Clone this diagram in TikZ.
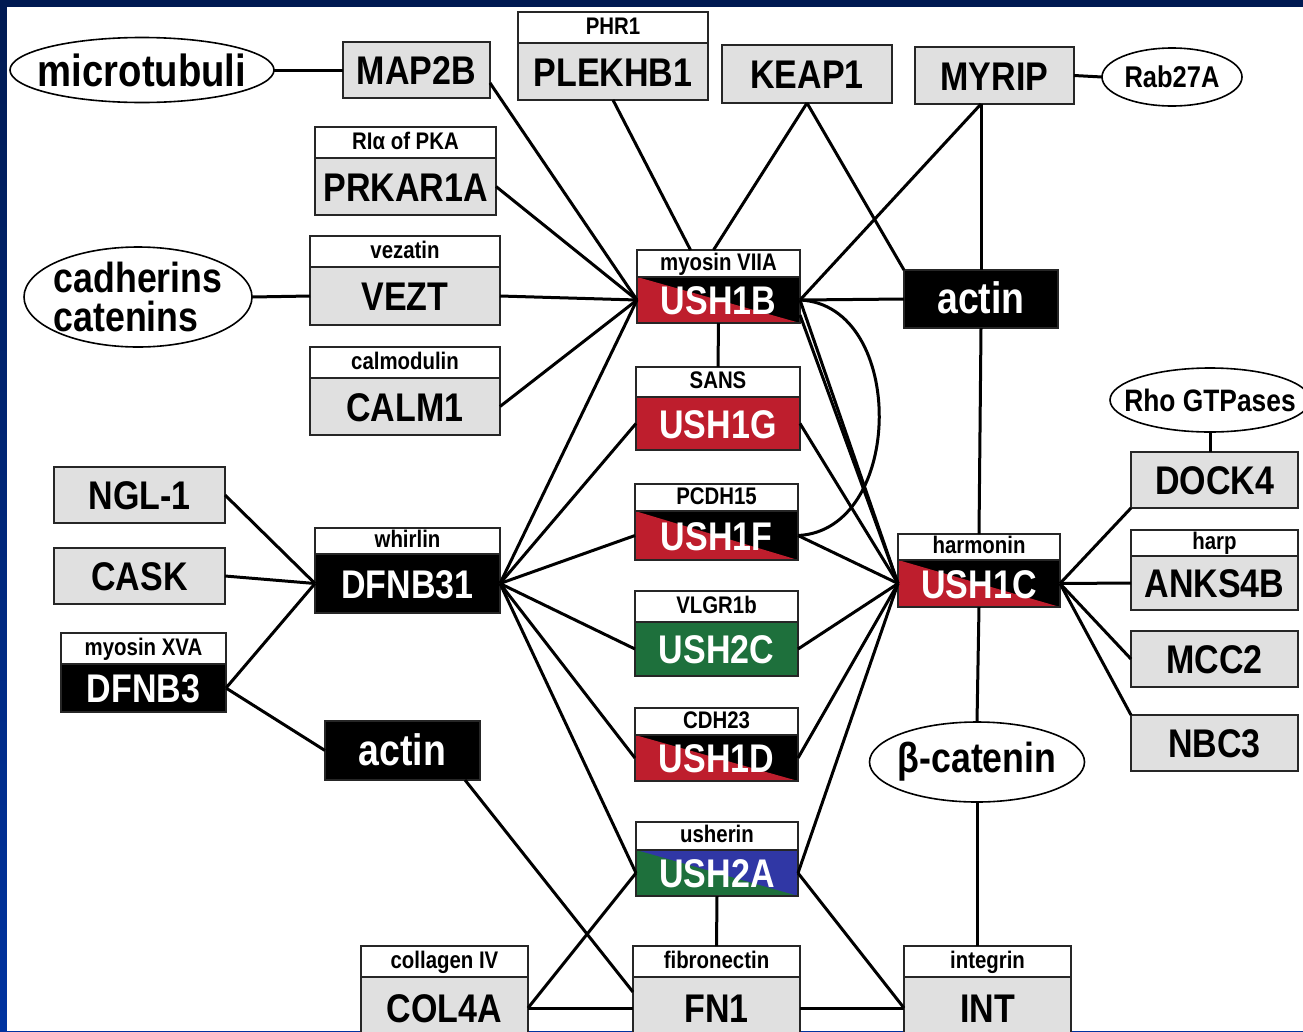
\documentclass[tikz,border=0pt]{standalone}
\usepackage{fontspec}
\setmainfont{Liberation Sans}[FakeStretch=0.85]
\usetikzlibrary{positioning,shapes.geometric,calc}

\definecolor{ushred}{RGB}{190,30,45}
\definecolor{ushgreen}{RGB}{30,112,60}
\definecolor{ushblue}{RGB}{48,55,165}
\definecolor{boxgrey}{RGB}{224,224,224}
\definecolor{navy}{RGB}{0,26,82}
\definecolor{frameblue}{RGB}{0,51,160}

\begin{document}
\begin{tikzpicture}[
    x=1pt, y=-1pt,
    prot/.style={draw=black!85, line width=1.4pt, outer sep=0pt, inner sep=0pt,
        fill=boxgrey, font=\bfseries\fontsize{40}{40}\selectfont,
        text height=29pt, text depth=0pt},
    protdark/.style={prot, fill=black, text=white},
    halves/.style 2 args={prot, fill=#1, text=white,
        path picture={\fill[#2] (path picture bounding box.north west)
            -- (path picture bounding box.south west)
            -- (path picture bounding box.south east) -- cycle;}},
    tag/.style={draw=black!85, line width=1.4pt, outer sep=0pt, inner sep=0pt,
        fill=white, font=\bfseries\fontsize{24}{24}\selectfont,
        text height=17pt, text depth=4pt},
    cloud/.style={ellipse, draw, line width=1.6pt, fill=white,
        inner sep=0pt, outer sep=0pt},
    cloudtext/.style={font=\bfseries\fontsize{#1}{#1}\selectfont},
    bond/.style={line width=3pt},
]

% frame
\useasboundingbox (0,0) rectangle (1303,1031);
\shade[top color=navy, bottom color=frameblue] (0,0) rectangle (1303,1031);
\fill[white] (7,7) rectangle (1303,1031);

%----------------------------------
% outer partners
%----------------------------------

\node[cloud, minimum width=264, minimum height=65,
    label={[cloudtext=45]center:microtubuli}] (micro) at (142,70) {};
\node[cloud, minimum width=228, minimum height=100,
    label={[font=\bfseries\fontsize{42}{39}\selectfont, align=left]center:cadherins\\catenins}] (cad) at (138,297) {};
\node[cloud, minimum width=140, minimum height=58,
    label={[cloudtext=30]center:Rab27A}] (rab) at (1172,77) {};
\node[cloud, minimum width=200, minimum height=64,
    label={[cloudtext=31]center:Rho GTPases}] (rho) at (1210,400) {};
\node[cloud, minimum width=215, minimum height=80,
    label={[cloudtext=42]center:β-catenin}] (bcat) at (977,762) {};

\node[prot, minimum width=147, minimum height=56] (map) at (416.5,70) {MAP2B};
\node[prot, minimum width=190, minimum height=57] (plek) at (613,71.5) {PLEKHB1};
\node[tag, minimum width=190, minimum height=31, above=0pt of plek] (plekH) {PHR1};
\node[prot, minimum width=170, minimum height=58] (keap) at (807,74) {KEAP1};
\node[prot, minimum width=159, minimum height=57] (myr) at (994.5,75.5) {MYRIP};

\node[prot, minimum width=181, minimum height=57] (prk) at (405.5,186.5) {PRKAR1A};
\node[tag, minimum width=181, minimum height=31, above=0pt of prk] (prkH) {RIα of PKA};
\node[prot, minimum width=190, minimum height=58] (vez) at (405,296) {VEZT};
\node[tag, minimum width=190, minimum height=31, above=0pt of vez] (vezH) {vezatin};
\node[prot, minimum width=190, minimum height=57] (calm) at (405,406.5) {CALM1};
\node[tag, minimum width=190, minimum height=31, above=0pt of calm] (calmH) {calmodulin};

\node[prot, minimum width=171, minimum height=56] (ngl) at (139.5,495) {NGL-1};
\node[prot, minimum width=171, minimum height=56] (cask) at (139.5,576) {CASK};
\node[protdark, minimum width=165, minimum height=48] (dfnbc) at (143.5,688) {DFNB3};
\node[tag, minimum width=165, minimum height=31, above=0pt of dfnbc] (dfnbcH) {myosin XVA};
\node[protdark, minimum width=185, minimum height=59] (dfnb) at (407.5,583.5) {DFNB31};
\node[tag, minimum width=185, minimum height=26, above=0pt of dfnb] (dfnbH) {whirlin};
\node[protdark, minimum width=155, minimum height=59,
    font=\bfseries\fontsize{44}{44}\selectfont] (actL) at (402.5,750.5) {actin};
\node[protdark, minimum width=154, minimum height=58,
    font=\bfseries\fontsize{44}{44}\selectfont] (actR) at (981,299) {actin};

%----------------------------------
% Usher column
%----------------------------------

\node[halves={black}{ushred}, minimum width=163, minimum height=46] (usb) at (718.5,300) {USH1B};
\node[tag, minimum width=163, minimum height=27, above=0pt of usb] (usbH) {myosin VIIA};
\node[prot, fill=ushred, text=white, minimum width=164, minimum height=53] (usg) at (718,423.5) {USH1G};
\node[tag, minimum width=164, minimum height=30, above=0pt of usg] (usgH) {SANS};
\node[halves={black}{ushred}, minimum width=163, minimum height=49] (usf) at (716.5,535.5) {USH1F};
\node[tag, minimum width=163, minimum height=27, above=0pt of usf] (usfH) {PCDH15};
\node[prot, fill=ushgreen, text=white, minimum width=163, minimum height=54] (usc) at (716.5,649) {USH2C};
\node[tag, minimum width=163, minimum height=31, above=0pt of usc] (uscH) {VLGR1b};
\node[halves={black}{ushred}, minimum width=163, minimum height=46] (usd) at (716.5,758) {USH1D};
\node[tag, minimum width=163, minimum height=27, above=0pt of usd] (usdH) {CDH23};
\node[halves={ushblue}{ushgreen}, minimum width=162, minimum height=46] (usa) at (717,873) {USH2A};
\node[tag, minimum width=162, minimum height=28, above=0pt of usa] (usaH) {usherin};

\node[halves={black}{ushred}, minimum width=162, minimum height=47] (ushc) at (979,583.5) {USH1C};
\node[tag, minimum width=162, minimum height=26, above=0pt of ushc] (ushcH) {harmonin};

%----------------------------------
% right and bottom partners
%----------------------------------

\node[prot, minimum width=167, minimum height=56] (dock) at (1214.5,480) {DOCK4};
\node[prot, minimum width=167, minimum height=54] (anks) at (1214.5,583) {ANKS4B};
\node[tag, minimum width=167, minimum height=26, above=0pt of anks] (anksH) {harp};
\node[prot, minimum width=167, minimum height=56] (mcc) at (1214.5,659) {MCC2};
\node[prot, minimum width=167, minimum height=56] (nbc) at (1214.5,743) {NBC3};

\node[prot, minimum width=167, minimum height=62] (col) at (444.5,1008) {COL4A};
\node[tag, minimum width=167, minimum height=31, above=0pt of col] (colH) {collagen IV};
\node[prot, minimum width=167, minimum height=62] (fn) at (716.5,1008) {FN1};
\node[tag, minimum width=167, minimum height=31, above=0pt of fn] (fnH) {fibronectin};
\node[prot, minimum width=167, minimum height=62] (int) at (987.5,1008) {INT};
\node[tag, minimum width=167, minimum height=31, above=0pt of int] (intH) {integrin};

%----------------------------------
% interactions
%----------------------------------

\draw[bond] (micro.east) -- (map.west);
\draw[bond] (myr.east) -- (rab.west);
\draw[bond] (cad.east) -- (vez.west);
\draw[bond] (rho.south) -- (rho.south |- dock.north);

\draw[bond] (map.-10) -- (usb.west);
\draw[bond] (prk.east) -- (usb.west);
\draw[bond] (vez.east) -- (usb.west);
\draw[bond] (calm.east) -- (usb.west);
\draw[bond] (plek.south) -- ($(usbH.north)+(-28,0)$);
\draw[bond] (keap.south) -- ($(usbH.north)+(-5,0)$);
\draw[bond] (keap.south) -- (actR.north west);
\draw[bond] (actR.north |- myr.south) -- (usb.east);
\draw[bond] (actR.north |- myr.south) -- (actR.north);
\draw[bond] (usb.east) -- (actR.west);
\draw[bond] (actR.south) -- (ushcH.north);
\draw[bond] (ushc.south) -- (bcat.north);
\draw[bond] (bcat.south) -- (bcat.south |- intH.north);

\draw[bond] (ngl.east) -- (dfnb.west);
\draw[bond] (cask.east) -- (dfnb.west);
\draw[bond] (dfnbc.east) -- (dfnb.west);
\draw[bond] (dfnbc.east) -- (actL.west);

\draw[bond] (dfnb.east) -- (usb.west);
\draw[bond] (dfnb.east) -- (usg.west);
\draw[bond] (dfnb.east) -- (usf.west);
\draw[bond] (dfnb.east) -- (usc.west);
\draw[bond] (dfnb.east) -- (usd.west);
\draw[bond] (dfnb.east) -- (usa.west);

\draw[bond] (usb.south) -- (usgH.north);
\draw[bond] (usb.east)
    .. controls ($(usb.east)+(107,5)$) and ($(usf.east)+(107,-5)$) ..
    (usf.east);
\draw[bond] (usb.east) -- (ushc.west);
\draw[bond] ($(usb.south east)+(0,-8)$) -- (ushc.west);
\draw[bond] (usg.east) -- (ushc.west);
\draw[bond] (usf.east) -- (ushc.west);
\draw[bond] (usc.east) -- (ushc.west);
\draw[bond] (usd.east) -- (ushc.west);
\draw[bond] (usa.east) -- (ushc.west);

\draw[bond] (ushc.east) -- (dock.south west);
\draw[bond] (ushc.east) -- (anks.west);
\draw[bond] (ushc.east) -- (mcc.west);
\draw[bond] (ushc.east) -- (nbc.north west);

\draw[bond] ($(actL.south east)+(-15,0)$) -- ($(fn.north west)+(0,15)$);
\draw[bond] (col.east) -- (usa.west);
\draw[bond] (col.east) -- (fn.west);
\draw[bond] (usa.south) -- (fnH.north);
\draw[bond] (usa.east) -- (int.west);
\draw[bond] (fn.east) -- (int.west);

\end{tikzpicture}
\end{document}
